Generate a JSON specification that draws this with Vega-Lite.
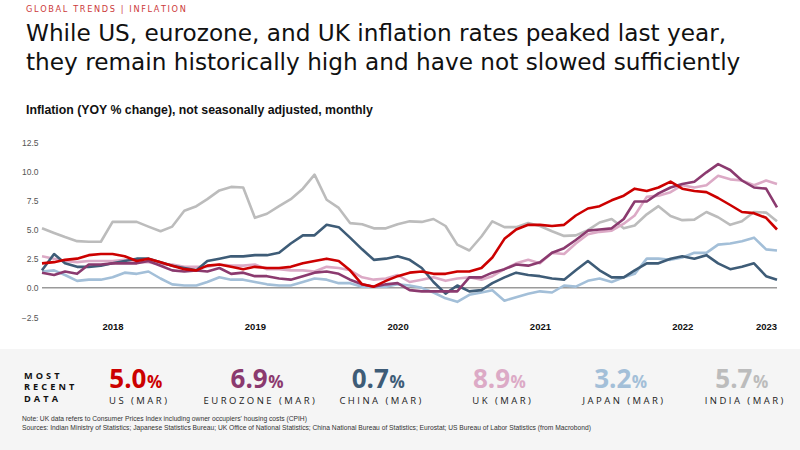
{
  "$schema": "https://vega.github.io/schema/vega-lite/v6.json",
  "background": "white",
  "padding": {"left": 0, "right": 0, "top": 5, "bottom": 0},
  "autosize": {"type": "pad"},
  "datasets": {
    "cpi": [
      {"month": "2018-01-01", "US": 2.1, "Eurozone": 1.3, "China": 1.5, "UK": 2.7, "Japan": 1.4, "India": 5.1},
      {"month": "2018-02-01", "US": 2.2, "Eurozone": 1.1, "China": 2.9, "UK": 2.5, "Japan": 1.5, "India": 4.7},
      {"month": "2018-03-01", "US": 2.4, "Eurozone": 1.4, "China": 2.1, "UK": 2.3, "Japan": 1.1, "India": 4.35},
      {"month": "2018-04-01", "US": 2.5, "Eurozone": 1.2, "China": 1.8, "UK": 2.2, "Japan": 0.6, "India": 4.0},
      {"month": "2018-05-01", "US": 2.8, "Eurozone": 2.0, "China": 1.8, "UK": 2.3, "Japan": 0.7, "India": 3.95},
      {"month": "2018-06-01", "US": 2.9, "Eurozone": 2.0, "China": 1.9, "UK": 2.3, "Japan": 0.7, "India": 3.95},
      {"month": "2018-07-01", "US": 2.9, "Eurozone": 2.1, "China": 2.1, "UK": 2.3, "Japan": 0.9, "India": 5.65},
      {"month": "2018-08-01", "US": 2.7, "Eurozone": 2.1, "China": 2.3, "UK": 2.4, "Japan": 1.3, "India": 5.65},
      {"month": "2018-09-01", "US": 2.3, "Eurozone": 2.1, "China": 2.5, "UK": 2.2, "Japan": 1.2, "India": 5.65},
      {"month": "2018-10-01", "US": 2.5, "Eurozone": 2.3, "China": 2.5, "UK": 2.2, "Japan": 1.4, "India": 5.25},
      {"month": "2018-11-01", "US": 2.2, "Eurozone": 1.9, "China": 2.2, "UK": 2.0, "Japan": 0.8, "India": 4.85},
      {"month": "2018-12-01", "US": 1.9, "Eurozone": 1.5, "China": 1.9, "UK": 2.0, "Japan": 0.3, "India": 5.25},
      {"month": "2019-01-01", "US": 1.6, "Eurozone": 1.4, "China": 1.7, "UK": 1.8, "Japan": 0.2, "India": 6.6},
      {"month": "2019-02-01", "US": 1.5, "Eurozone": 1.5, "China": 1.5, "UK": 1.8, "Japan": 0.2, "India": 7.0},
      {"month": "2019-03-01", "US": 1.9, "Eurozone": 1.4, "China": 2.3, "UK": 1.8, "Japan": 0.5, "India": 7.6},
      {"month": "2019-04-01", "US": 2.0, "Eurozone": 1.7, "China": 2.5, "UK": 2.0, "Japan": 0.9, "India": 8.35},
      {"month": "2019-05-01", "US": 1.8, "Eurozone": 1.2, "China": 2.7, "UK": 1.9, "Japan": 0.7, "India": 8.65},
      {"month": "2019-06-01", "US": 1.6, "Eurozone": 1.3, "China": 2.7, "UK": 1.9, "Japan": 0.7, "India": 8.6},
      {"month": "2019-07-01", "US": 1.8, "Eurozone": 1.0, "China": 2.8, "UK": 2.0, "Japan": 0.5, "India": 6.0},
      {"month": "2019-08-01", "US": 1.7, "Eurozone": 1.0, "China": 2.8, "UK": 1.6, "Japan": 0.3, "India": 6.35},
      {"month": "2019-09-01", "US": 1.7, "Eurozone": 0.8, "China": 3.0, "UK": 1.6, "Japan": 0.2, "India": 7.0},
      {"month": "2019-10-01", "US": 1.8, "Eurozone": 0.7, "China": 3.8, "UK": 1.5, "Japan": 0.2, "India": 7.6},
      {"month": "2019-11-01", "US": 2.1, "Eurozone": 1.0, "China": 4.5, "UK": 1.5, "Japan": 0.5, "India": 8.5},
      {"month": "2019-12-01", "US": 2.3, "Eurozone": 1.3, "China": 4.5, "UK": 1.4, "Japan": 0.8, "India": 9.7},
      {"month": "2020-01-01", "US": 2.5, "Eurozone": 1.4, "China": 5.4, "UK": 1.8, "Japan": 0.7, "India": 7.55},
      {"month": "2020-02-01", "US": 2.3, "Eurozone": 1.2, "China": 5.2, "UK": 1.7, "Japan": 0.4, "India": 6.85},
      {"month": "2020-03-01", "US": 1.5, "Eurozone": 0.7, "China": 4.3, "UK": 1.5, "Japan": 0.4, "India": 5.55},
      {"month": "2020-04-01", "US": 0.3, "Eurozone": 0.3, "China": 3.3, "UK": 0.9, "Japan": 0.1, "India": 5.45},
      {"month": "2020-05-01", "US": 0.1, "Eurozone": 0.1, "China": 2.4, "UK": 0.7, "Japan": 0.1, "India": 5.1},
      {"month": "2020-06-01", "US": 0.6, "Eurozone": 0.3, "China": 2.5, "UK": 0.8, "Japan": 0.1, "India": 5.1},
      {"month": "2020-07-01", "US": 1.0, "Eurozone": 0.4, "China": 2.7, "UK": 1.1, "Japan": 0.3, "India": 5.45},
      {"month": "2020-08-01", "US": 1.3, "Eurozone": -0.2, "China": 2.4, "UK": 0.5, "Japan": 0.2, "India": 5.7},
      {"month": "2020-09-01", "US": 1.4, "Eurozone": -0.3, "China": 1.7, "UK": 0.7, "Japan": 0.0, "India": 5.65},
      {"month": "2020-10-01", "US": 1.2, "Eurozone": -0.3, "China": 0.5, "UK": 0.9, "Japan": -0.4, "India": 5.9},
      {"month": "2020-11-01", "US": 1.2, "Eurozone": -0.3, "China": -0.5, "UK": 0.6, "Japan": -0.9, "India": 5.3},
      {"month": "2020-12-01", "US": 1.4, "Eurozone": -0.3, "China": 0.2, "UK": 0.8, "Japan": -1.2, "India": 3.7},
      {"month": "2021-01-01", "US": 1.4, "Eurozone": 0.9, "China": -0.3, "UK": 0.9, "Japan": -0.6, "India": 3.2},
      {"month": "2021-02-01", "US": 1.7, "Eurozone": 0.9, "China": -0.2, "UK": 0.7, "Japan": -0.4, "India": 4.4},
      {"month": "2021-03-01", "US": 2.6, "Eurozone": 1.3, "China": 0.4, "UK": 1.0, "Japan": -0.2, "India": 5.7},
      {"month": "2021-04-01", "US": 4.2, "Eurozone": 1.6, "China": 0.9, "UK": 1.6, "Japan": -1.1, "India": 5.2},
      {"month": "2021-05-01", "US": 5.0, "Eurozone": 2.0, "China": 1.3, "UK": 2.1, "Japan": -0.8, "India": 5.2},
      {"month": "2021-06-01", "US": 5.4, "Eurozone": 1.9, "China": 1.1, "UK": 2.4, "Japan": -0.5, "India": 5.55},
      {"month": "2021-07-01", "US": 5.4, "Eurozone": 2.2, "China": 1.0, "UK": 2.1, "Japan": -0.3, "India": 5.3},
      {"month": "2021-08-01", "US": 5.3, "Eurozone": 3.0, "China": 0.8, "UK": 3.0, "Japan": -0.4, "India": 4.85},
      {"month": "2021-09-01", "US": 5.4, "Eurozone": 3.4, "China": 0.7, "UK": 2.9, "Japan": 0.2, "India": 4.45},
      {"month": "2021-10-01", "US": 6.2, "Eurozone": 4.1, "China": 1.5, "UK": 3.8, "Japan": 0.1, "India": 4.5},
      {"month": "2021-11-01", "US": 6.8, "Eurozone": 4.9, "China": 2.3, "UK": 4.6, "Japan": 0.6, "India": 4.95},
      {"month": "2021-12-01", "US": 7.0, "Eurozone": 5.0, "China": 1.5, "UK": 4.8, "Japan": 0.8, "India": 5.6},
      {"month": "2022-01-01", "US": 7.5, "Eurozone": 5.1, "China": 0.9, "UK": 4.9, "Japan": 0.5, "India": 5.9},
      {"month": "2022-02-01", "US": 7.9, "Eurozone": 5.9, "China": 0.9, "UK": 5.5, "Japan": 0.9, "India": 5.1},
      {"month": "2022-03-01", "US": 8.5, "Eurozone": 7.4, "China": 1.5, "UK": 6.2, "Japan": 1.2, "India": 5.35},
      {"month": "2022-04-01", "US": 8.3, "Eurozone": 7.4, "China": 2.1, "UK": 7.8, "Japan": 2.5, "India": 6.3},
      {"month": "2022-05-01", "US": 8.6, "Eurozone": 8.1, "China": 2.1, "UK": 7.9, "Japan": 2.5, "India": 7.0},
      {"month": "2022-06-01", "US": 9.1, "Eurozone": 8.6, "China": 2.5, "UK": 8.2, "Japan": 2.4, "India": 6.15},
      {"month": "2022-07-01", "US": 8.5, "Eurozone": 8.9, "China": 2.7, "UK": 8.8, "Japan": 2.6, "India": 5.8},
      {"month": "2022-08-01", "US": 8.3, "Eurozone": 9.1, "China": 2.5, "UK": 8.6, "Japan": 3.0, "India": 5.85},
      {"month": "2022-09-01", "US": 8.2, "Eurozone": 9.9, "China": 2.8, "UK": 8.8, "Japan": 3.0, "India": 6.5},
      {"month": "2022-10-01", "US": 7.7, "Eurozone": 10.6, "China": 2.1, "UK": 9.6, "Japan": 3.7, "India": 6.05},
      {"month": "2022-11-01", "US": 7.1, "Eurozone": 10.1, "China": 1.6, "UK": 9.3, "Japan": 3.8, "India": 5.4},
      {"month": "2022-12-01", "US": 6.5, "Eurozone": 9.2, "China": 1.8, "UK": 9.2, "Japan": 4.0, "India": 5.7},
      {"month": "2023-01-01", "US": 6.4, "Eurozone": 8.6, "China": 2.1, "UK": 8.8, "Japan": 4.3, "India": 6.5},
      {"month": "2023-02-01", "US": 6.0, "Eurozone": 8.5, "China": 1.0, "UK": 9.2, "Japan": 3.3, "India": 6.45},
      {"month": "2023-03-01", "US": 5.0, "Eurozone": 6.9, "China": 0.7, "UK": 8.9, "Japan": 3.2, "India": 5.7}
    ],
    "labels": [
      {"country": "US", "label": "U S \u00a0 ( M A R )"},
      {"country": "Eurozone", "label": "E U R O Z O N E \u00a0 ( M A R )"},
      {"country": "China", "label": "C H I N A \u00a0 ( M A R )"},
      {"country": "UK", "label": "U K \u00a0 ( M A R )"},
      {"country": "Japan", "label": "J A P A N \u00a0 ( M A R )"},
      {"country": "India", "label": "I N D I A \u00a0 ( M A R )"}
    ]
  },
  "title": {
    "text": "G\u2009L\u2009O\u2009B\u2009A\u2009L\u2009 \u2009T\u2009R\u2009E\u2009N\u2009D\u2009S\u2009 \u2009|\u2009 \u2009I\u2009N\u2009F\u2009L\u2009A\u2009T\u2009I\u2009O\u2009N",
    "subtitle": [
      "While US, eurozone, and UK inflation rates peaked last year,",
      "they remain historically high and have not slowed sufficiently"
    ],
    "anchor": "start",
    "frame": "bounds",
    "dx": 26,
    "font": "DejaVu Sans",
    "fontSize": 8.2,
    "fontWeight": "normal",
    "color": "#cc3a3a",
    "subtitleFont": "DejaVu Sans",
    "subtitleFontSize": 23.2,
    "subtitleFontWeight": "normal",
    "subtitleColor": "#111111",
    "subtitleLineHeight": 29,
    "subtitlePadding": 8,
    "offset": 29
  },
  "spacing": 18,
  "vconcat": [
    {
      "width": 800,
      "height": 175,
      "title": {
        "text": "Inflation (YOY % change), not seasonally adjusted, monthly",
        "anchor": "start",
        "frame": "bounds",
        "dx": 26,
        "font": "Liberation Sans",
        "fontSize": 12.3,
        "fontWeight": "bold",
        "color": "#111111",
        "offset": 22
      },
      "layer": [
        {
          "data": {"values": [{}]},
          "mark": {"type": "rule", "color": "#9a9a9a", "strokeWidth": 1.5},
          "encoding": {
            "x": {
              "datum": {"year": 2018, "month": 1, "date": 1, "utc": true},
              "type": "temporal",
              "scale": {"type": "utc", "nice": false, "range": [42, 777]},
              "axis": {
                "title": null,
                "values": [
                  {"year": 2018, "month": 7, "date": 1, "utc": true},
                  {"year": 2019, "month": 7, "date": 1, "utc": true},
                  {"year": 2020, "month": 7, "date": 1, "utc": true},
                  {"year": 2021, "month": 7, "date": 1, "utc": true},
                  {"year": 2022, "month": 7, "date": 1, "utc": true},
                  {"year": 2023, "month": 2, "date": 1, "utc": true}
                ],
                "tickCount": 12,
                "labelExpr": "utcFormat(datum.value, '%Y')",
                "domain": false,
                "ticks": false,
                "grid": false,
                "labelFont": "Liberation Sans",
                "labelFontSize": 9.5,
                "labelFontWeight": "bold",
                "labelColor": "#111111",
                "labelPadding": 4,
                "labelOverlap": false,
                "labelFlush": false
              }
            },
            "x2": {"datum": {"year": 2023, "month": 3, "date": 1, "utc": true}},
            "y": {
              "datum": 0,
              "type": "quantitative",
              "scale": {"domain": [-2.5, 12.5], "nice": false, "zero": false},
              "axis": {
                "title": null,
                "values": [-2.5, 0, 2.5, 5, 7.5, 10, 12.5],
                "tickCount": 10,
                "format": ".1f",
                "domain": false,
                "ticks": false,
                "grid": false,
                "labelFont": "Liberation Sans",
                "labelFontSize": 8.5,
                "labelColor": "#555555",
                "labelPadding": 4,
                "labelOverlap": false,
                "offset": -42,
                "minExtent": 0,
                "maxExtent": 0
              }
            }
          }
        },
        {
          "data": {"name": "cpi"},
          "transform": [
            {"fold": ["India", "Japan", "UK", "China", "Eurozone", "US"], "as": ["country", "value"]}
          ],
          "mark": {"type": "line", "strokeWidth": 2.6, "strokeJoin": "round"},
          "encoding": {
            "x": {"field": "month", "type": "temporal"},
            "y": {"field": "value", "type": "quantitative"},
            "color": {
              "field": "country",
              "type": "nominal",
              "scale": {
                "domain": ["US", "Eurozone", "China", "UK", "Japan", "India"],
                "range": ["#cc0000", "#8b3a6f", "#3e5c77", "#dcaac6", "#a3bfd8", "#bcbcbc"]
              },
              "legend": null
            }
          }
        }
      ]
    },
    {
      "width": 800,
      "height": 101,
      "view": {"fill": "#f5f5f5", "stroke": null},
      "layer": [
        {
          "data": {"name": "cpi"},
          "transform": [
            {"filter": "utcyear(datum.month) == 2023 && utcmonth(datum.month) == 2"},
            {"fold": ["US", "Eurozone", "China", "UK", "Japan", "India"], "as": ["country", "value"]},
            {"lookup": "country", "from": {"data": {"name": "labels"}, "key": "country", "fields": ["label"]}}
          ],
          "encoding": {
            "x": {
              "field": "country",
              "type": "nominal",
              "scale": {"type": "point", "padding": 0, "domain": ["US", "Eurozone", "China", "UK", "Japan", "India"], "range": [138, 744]},
              "axis": null
            }
          },
          "layer": [
            {
              "mark": {"type": "text", "align": "right", "baseline": "alphabetic", "dx": 8.5, "font": "Open Sans", "fontSize": 26, "fontWeight": "bold"},
              "encoding": {
                "y": {"value": 39},
                "text": {"field": "value", "type": "quantitative", "format": ".1f"},
                "color": {
                  "field": "country",
                  "type": "nominal",
                  "scale": {
                    "domain": ["US", "Eurozone", "China", "UK", "Japan", "India"],
                    "range": ["#cc0000", "#8e3c74", "#44617c", "#e0a9c8", "#a2bdd6", "#b4b4b4"]
                  },
                  "legend": null
                }
              }
            },
            {
              "mark": {"type": "text", "align": "left", "baseline": "alphabetic", "dx": 9, "font": "Open Sans", "fontSize": 17, "fontWeight": "bold"},
              "encoding": {
                "y": {"value": 39},
                "text": {"value": "%"},
                "color": {"field": "country", "type": "nominal", "legend": null}
              }
            },
            {
              "mark": {"type": "text", "align": "center", "baseline": "alphabetic", "font": "Open Sans", "fontSize": 9.5, "color": "#222222"},
              "encoding": {
                "y": {"value": 55},
                "text": {"field": "label", "type": "nominal"}
              }
            }
          ]
        },
        {
          "data": {"values": [{}]},
          "mark": {"type": "text", "align": "left", "baseline": "middle", "font": "Open Sans", "fontSize": 9.2, "fontWeight": "bold", "lineHeight": 11.3, "color": "#111111"},
          "encoding": {
            "x": {"value": 24},
            "y": {"value": 27},
            "text": {"value": ["M\u2004O\u2004S\u2004T", "R\u2004E\u2004C\u2004E\u2004N\u2004T", "D\u2004A\u2004T\u2004A"]}
          }
        },
        {
          "data": {"values": [{}]},
          "mark": {"type": "text", "align": "left", "baseline": "middle", "font": "Liberation Sans", "fontSize": 6.7, "lineHeight": 9, "color": "#333333"},
          "encoding": {
            "x": {"value": 22},
            "y": {"value": 70},
            "text": {"value": [
              "Note: UK data refers to Consumer Prices Index including owner occupiers' housing costs (CPIH)",
              "Sources: Indian Ministry of Statistics; Japanese Statistics Bureau; UK Office of National Statistics; China National Bureau of Statistics; Eurostat; US Bureau of Labor Statistics (from Macrobond)"
            ]}
          }
        }
      ]
    }
  ],
  "config": {"view": {"stroke": null}, "axis": {"labelOverlap": false}}
}
